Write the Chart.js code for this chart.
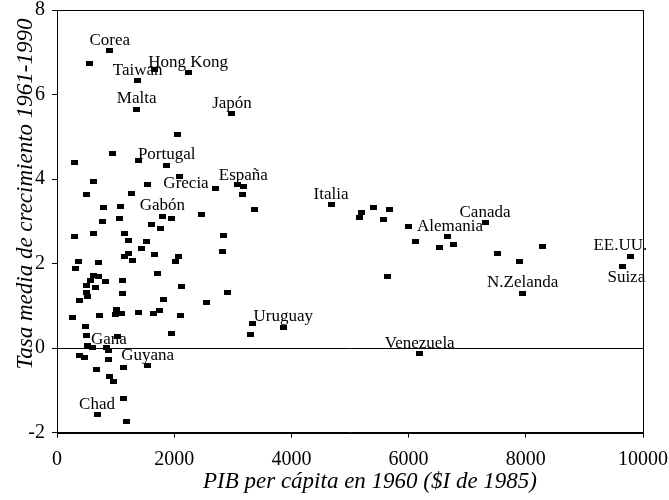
<!DOCTYPE html>
<html>
<head>
<meta charset="utf-8">
<script src="https://cdn.jsdelivr.net/npm/chart.js@4/dist/chart.umd.min.js"></script>
<style>
  body { margin: 0; background: #fff; }
</style>
</head>
<body>
<canvas id="growth_chart" width="669" height="500"></canvas>
<script>
// paesi con il nome scritto vicino al punto
const named_country = ['Corea', 'Hong Kong', 'Taiwan', 'Malta', 'Japón', 'Portugal', 'Grecia', 'España', 'Gabón', 'Gana',
  'Guyana', 'Chad', 'Italia', 'Alemania', 'Uruguay', 'Venezuela', 'Canada', 'N.Zelanda', 'EE.UU.', 'Suiza']
const named_gdp = [899, 2236, 1377, 1360, 2986, 1872, 2082, 3179, 1797, 887,
  1548, 683, 4676, 6672, 3862, 6190, 7304, 7947, 9784, 9647]
const named_growth = [7.03, 6.52, 6.33, 5.65, 5.55, 4.33, 4.05, 3.83, 3.12, -0.05,
  -0.42, -1.58, 3.39, 2.64, 0.49, -0.13, 2.97, 1.30, 2.16, 1.93]

// tutti gli altri paesi (senza nome)
const other_gdp = [551, 1672, 2048, 939, 1394, 302, 626, 1541, 2713, 3084,
  3162, 507, 1268, 3362, 802, 1080, 2469, 1962, 1075, 780,
  1609, 1758, 307, 631, 1155, 2833, 1224, 1519, 1445, 2816,
  1224, 1155, 1672, 2065, 2026, 1280, 375, 712, 324, 1712,
  619, 705, 575, 824, 1121, 495, 660, 2128, 507, 1121,
  2918, 524, 381, 1809, 2543, 261, 717, 1019, 990, 1109,
  1387, 1650, 1741, 2111, 483, 3333, 507, 1029, 1951, 3299,
  512, 602, 853, 387, 466, 887, 677, 1131, 899, 961,
  1143, 1183, 5200, 5166, 5404, 5666, 5568, 5990, 6114, 6524,
  6763, 5637, 8282, 7514, 7896]
const other_growth = [6.73, 6.59, 5.05, 4.61, 4.44, 4.38, 3.95, 3.87, 3.77, 3.88,
  3.63, 3.64, 3.66, 3.29, 3.32, 3.36, 3.17, 3.06, 3.07, 2.99,
  2.92, 2.82, 2.65, 2.72, 2.70, 2.66, 2.54, 2.52, 2.35, 2.29,
  2.24, 2.16, 2.22, 2.16, 2.05, 2.07, 2.05, 2.03, 1.89, 1.76,
  1.72, 1.69, 1.61, 1.58, 1.59, 1.47, 1.44, 1.46, 1.32, 1.30,
  1.32, 1.21, 1.13, 1.16, 1.07, 0.72, 0.78, 0.91, 0.79, 0.82,
  0.84, 0.83, 0.90, 0.76, 0.51, 0.58, 0.29, 0.28, 0.35, 0.32,
  0.05, 0.02, 0.02, -0.18, -0.23, -0.26, -0.50, -0.47, -0.67, -0.80,
  -1.19, -1.73, 3.20, 3.10, 3.33, 3.29, 3.04, 2.87, 2.53, 2.37,
  2.45, 1.69, 2.41, 2.23, 2.04]

const x_ticks = [0, 2000, 4000, 6000, 8000, 10000]
const y_ticks = [-2, 0, 2, 4, 6, 8]

const x_title = 'PIB per cápita en 1960 ($I de 1985)'
const y_title = 'Tasa media de crecimiento 1961-1990'

const serif = '"Liberation Serif", "Times New Roman", serif'

// spostamento dell'etichetta rispetto al punto, di default sopra
const label_nudge = {
  'Grecia': [7, 11],
  'EE.UU.': [-10, -7],
  'Suiza': [4, 15],
  'Alemania': [2, -6]
}

// quadratino nero usato come marker
const marker = document.createElement('canvas')
marker.width = 7
marker.height = 5
const marker_ctx = marker.getContext('2d')
marker_ctx.fillStyle = '#000'
marker_ctx.fillRect(0, 0, 7, 5)

const frame_and_labels = {
  id: 'frame_and_labels',
  afterDatasetsDraw(chart) {
    const { ctx, chartArea } = chart
    const left = Math.round(chartArea.left) + 0.5
    const top = Math.round(chartArea.top) + 0.5
    const right = Math.round(chartArea.right) + 0.5
    const bottom = Math.round(chartArea.bottom) + 0.5
    ctx.save()
    // cornice completa
    ctx.strokeStyle = '#000'
    ctx.lineWidth = 1
    ctx.strokeRect(left, top, right - left, bottom - top)

    // nomi dei paesi
    ctx.fillStyle = '#000'
    ctx.font = '17px ' + serif
    ctx.textAlign = 'center'
    ctx.textBaseline = 'alphabetic'
    chart.getDatasetMeta(0).data.forEach((pt, i) => {
      const name = named_country[i]
      const [dx, dy] = label_nudge[name] || [0, -6]
      ctx.fillText(name, pt.x + dx, pt.y + dy)
    })

    // titoli degli assi
    ctx.font = 'italic 23px ' + serif
    ctx.fillText(x_title, 370, 488)
    ctx.translate(32, 194)
    ctx.rotate(-Math.PI / 2)
    ctx.fillText(y_title, 0, 0)
    ctx.restore()
  }
}

const tick_font = { family: serif, size: 20, lineHeight: 1 }

new Chart(document.querySelector('#growth_chart'), {
  type: 'scatter',
  data: {
    datasets: [
      {
        data: named_gdp.map((x, i) => ({ x: x, y: named_growth[i] })),
        pointStyle: marker,
        pointRadius: 4
      },
      {
        data: other_gdp.map((x, i) => ({ x: x, y: other_growth[i] })),
        pointStyle: marker,
        pointRadius: 4
      }
    ]
  },
  options: {
    responsive: false,
    animation: false,
    layout: { padding: { top: 10, right: 26, left: 0, bottom: 0 } },
    plugins: {
      legend: { display: false },
      tooltip: { enabled: false }
    },
    scales: {
      x: {
        type: 'linear',
        min: 0,
        max: 10000,
        afterBuildTicks: (scale) => { scale.ticks = x_ticks.map(v => ({ value: v })) },
        afterFit: (scale) => {
          scale.height = 67.4
          // il padding dei tick non deve restringere l'area del grafico
          scale.paddingLeft = 0
          scale.paddingRight = 0
        },
        border: { color: '#000', width: 1 },
        grid: { drawOnChartArea: false, tickLength: 5, tickColor: '#000' },
        ticks: {
          font: tick_font,
          color: '#000',
          padding: 12,
          maxRotation: 0,
          autoSkip: false,
          callback: (v) => String(v)
        }
      },
      y: {
        type: 'linear',
        min: -2,
        max: 8,
        afterBuildTicks: (scale) => { scale.ticks = y_ticks.map(v => ({ value: v })) },
        afterFit: (scale) => {
          scale.width = 57
          scale.paddingTop = 0
          scale.paddingBottom = 0
        },
        border: { color: '#000', width: 1 },
        grid: {
          // solo la linea dello zero
          color: (c) => (c.tick && c.tick.value === 0) ? '#000' : 'rgba(0,0,0,0)',
          tickLength: 5,
          tickColor: '#000'
        },
        ticks: {
          font: tick_font,
          color: '#000',
          padding: 7,
          autoSkip: false,
          callback: (v) => String(v)
        }
      }
    }
  },
  plugins: [frame_and_labels]
})
</script>
</body>
</html>
